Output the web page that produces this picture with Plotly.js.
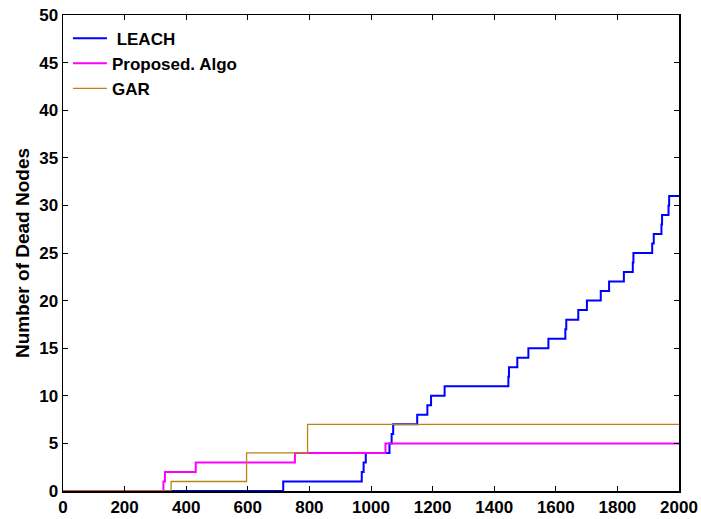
<!DOCTYPE html>
<html>
<head>
<meta charset="utf-8">
<script src="https://cdn.plot.ly/plotly-3.0.1.min.js"></script>
<style>html,body{margin:0;padding:0;background:#fff;}#chart{width:701px;height:519px;}</style>
</head>
<body>
<div id="chart"></div>
<script>
const leachRounds = [0, 715, 970, 976, 983, 1060, 1067, 1072, 1150, 1183, 1195, 1239, 1446, 1448, 1475, 1511, 1576, 1631, 1634, 1673, 1701, 1746, 1773, 1821, 1850, 1852, 1913, 1918, 1943, 1945, 1966, 1968, 2000];
const leachDead   = [0, 1, 2, 3, 4, 5, 6, 7, 8, 9, 10, 11, 12, 13, 14, 15, 16, 17, 18, 19, 20, 21, 22, 23, 24, 25, 26, 27, 28, 29, 30, 31, 31];
const propRounds = [0, 326, 331, 431, 753, 1047, 2000];
const propDead   = [0, 1, 2, 3, 4, 5, 5];
const garRounds = [0, 351, 596, 794, 2000];
const garDead   = [0, 1, 4, 7, 7];
const xTicks = [0, 200, 400, 600, 800, 1000, 1200, 1400, 1600, 1800, 2000];
const yTicks = [0, 5, 10, 15, 20, 25, 30, 35, 40, 45, 50];

const FONT = "Liberation Sans, Arial, Helvetica, sans-serif";
const traces = [
  {x: leachRounds, y: leachDead, name: " LEACH", mode: "lines", line: {shape: "hv", color: "#0000ff", width: 2}},
  {x: propRounds, y: propDead, name: "Proposed. Algo", mode: "lines", line: {shape: "hv", color: "#ff00ff", width: 2}},
  {x: garRounds, y: garDead, name: "GAR", mode: "lines", line: {shape: "hv", color: "#b8860b", width: 1.3}}
];
const axisCommon = {
  showgrid: false, zeroline: false, showline: true, linecolor: "#000", linewidth: 1.5,
  mirror: "ticks", ticks: "inside", ticklen: 5, tickwidth: 1, tickcolor: "#000",
  tickfont: {family: FONT, size: 17, color: "#000", weight: 700}
};
const layout = {
  width: 701, height: 519,
  margin: {l: 63, r: 22, t: 15, b: 28},
  paper_bgcolor: "#fff", plot_bgcolor: "#fff",
  showlegend: true,
  legend: {x: 0.008, y: 0.988, xanchor: "left", yanchor: "top", bgcolor: "rgba(0,0,0,0)", itemwidth: 34,
           font: {family: FONT, size: 17, color: "#000", weight: 700}},
  xaxis: Object.assign({}, axisCommon, {range: [0, 2000], tickvals: xTicks, ticktext: xTicks.map(String)}),
  yaxis: Object.assign({}, axisCommon, {range: [0, 50], tickvals: yTicks, ticktext: yTicks.map(String),
    title: {text: "Number of Dead Nodes", font: {family: FONT, size: 19, color: "#000", weight: 700}, standoff: 4}})
};
Plotly.newPlot("chart", traces, layout, {displayModeBar: false, staticPlot: true});
</script>
</body>
</html>
